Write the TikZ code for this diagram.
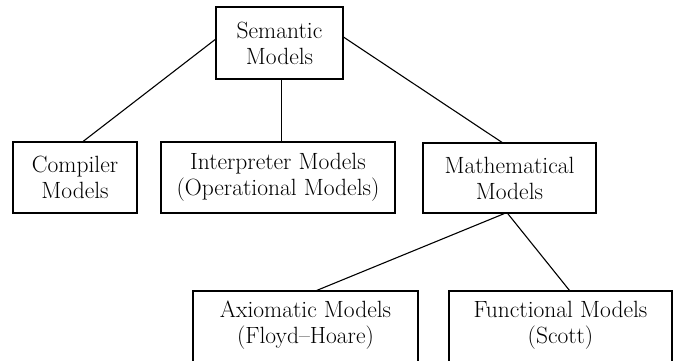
\documentclass[tikz,border=0pt]{standalone}
\usetikzlibrary{calc}
\begin{document}
\begin{tikzpicture}[x=1pt,y=-1pt,
  box/.style={draw,line width=1.2pt,inner sep=0pt,align=center,
    font=\fontsize{23.5}{26}\selectfont},
  lbl/.style={inner sep=0pt,align=center,font=\fontsize{23.5}{26}\selectfont},
  conn/.style={line width=1.1pt}]
\useasboundingbox (0,0) rectangle (675,361);
\clip (0,0) rectangle (675,361);
\node[box,minimum width=127pt,minimum height=72pt] (sem) at (279.5,43) {Semantic\\Models};
\node[box,minimum width=124pt,minimum height=71pt] (comp) at (75,177.5) {Compiler\\Models};
\node[box,minimum width=234pt,minimum height=71pt] (interp) at (278,177.5) {Interpreter Models\\(Operational Models)};
\node[box,minimum width=173pt,minimum height=70pt] (math) at (509.5,178) {Mathematical\\Models};
\node[box,minimum width=225pt,minimum height=90pt] (ax) at (305.5,336) {};
\node[lbl] (axt) at (305.5,325) {Axiomatic Models\\(Floyd--Hoare)};
\node[box,minimum width=223pt,minimum height=90pt] (fun) at (560.5,336) {};
\node[lbl] (funt) at (560.5,325) {Functional Models\\(Scott)};
\draw[conn] ($(sem.north west)!0.45!(sem.south west)$) -- ($(comp.north west)!0.565!(comp.north east)$);
\draw[conn] ([xshift=2pt]sem.south) -- ([xshift=2pt]sem.south |- interp.north);
\draw[conn] ($(sem.north east)!0.42!(sem.south east)$) -- ($(math.north west)!0.457!(math.north east)$);
\draw[conn] ($(math.south west)!0.47!(math.south east)$) -- ($(ax.north west)!0.55!(ax.north east)$);
\draw[conn] ($(math.south west)!0.49!(math.south east)$) -- ($(fun.north west)!0.54!(fun.north east)$);
\end{tikzpicture}
\end{document}
